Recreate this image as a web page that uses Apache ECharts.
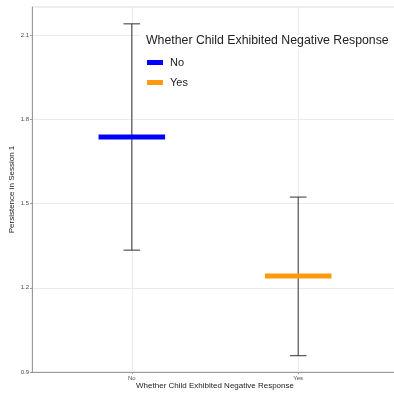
<!DOCTYPE html>
<html>
<head>
<meta charset="utf-8">
<script src="https://cdn.jsdelivr.net/npm/echarts@6/dist/echarts.min.js"></script>
<style>
  html, body { margin: 0; padding: 0; background: #fff; }
  #chart { width: 394px; height: 395px; }
</style>
</head>
<body>
<div id="chart"></div>
<script>
// data
const categories = ["No", "Yes"];
const means = [1.737, 1.242];
const lower = [1.334, 0.958];
const upper = [2.14, 1.523];
const colors = ["#0000FF", "#FF9A0E"];
const yTicks = [0.9, 1.2, 1.5, 1.8, 2.1];

const FONT = "Liberation Sans, Arial, sans-serif";
const chart = echarts.init(document.getElementById("chart"));

// one custom series per group: mean bar + error bar
function groupSeries(i) {
  return {
    name: categories[i],
    type: "custom",
    itemStyle: { color: colors[i] },
    data: [[i + 1, means[i], lower[i], upper[i]]],
    renderItem: function (params, api) {
      const x = api.value(0);
      const lo = api.coord([x, api.value(2)]);
      const hi = api.coord([x, api.value(3)]);
      const capL = api.coord([x - 0.05, 0])[0];
      const capR = api.coord([x + 0.05, 0])[0];
      const barL = api.coord([x - 0.2, api.value(1)]);
      const barR = api.coord([x + 0.2, api.value(1)]);
      const line = { stroke: "#333", lineWidth: 1 };
      return {
        type: "group",
        children: [
          { type: "line", shape: { x1: lo[0], y1: lo[1], x2: hi[0], y2: hi[1] }, style: line },
          { type: "line", shape: { x1: capL, y1: lo[1], x2: capR, y2: lo[1] }, style: line },
          { type: "line", shape: { x1: capL, y1: hi[1], x2: capR, y2: hi[1] }, style: line },
          { type: "rect", shape: { x: barL[0], y: barL[1] - 2.5, width: barR[0] - barL[0], height: 5 },
            style: { fill: colors[i] } }
        ]
      };
    }
  };
}

const series = categories.map((c, i) => groupSeries(i));
// vertical grid lines at the category positions
series[0].markLine = {
  silent: true,
  symbol: "none",
  label: { show: false },
  lineStyle: { color: "#ebebeb", width: 1, type: "solid" },
  z: 0,
  data: categories.map((c, i) => ({ xAxis: i + 1 }))
};

const option = {
  animation: false,
  backgroundColor: "#fff",
  textStyle: { fontFamily: FONT },
  grid: {
    left: 32, right: -4, top: 7, bottom: 23,
    outerBoundsMode: "none",
    containLabel: false,
    show: true, borderColor: "#dcdcdc", borderWidth: 1, backgroundColor: "#fff"
  },
  title: {
    text: "Whether Child Exhibited Negative Response",
    left: 140, top: 33,
    padding: [2, 6, 2, 6],
    backgroundColor: "#fff",
    textStyle: { fontFamily: FONT, fontSize: 12.3, fontWeight: "normal", color: "#222" }
  },
  legend: {
    orient: "vertical",
    left: 141, top: 55,
    padding: [2, 6, 2, 6],
    backgroundColor: "#fff",
    icon: "rect",
    itemWidth: 16, itemHeight: 5, itemGap: 9,
    selectedMode: false,
    textStyle: { fontFamily: FONT, fontSize: 11, color: "#222", padding: [0, 0, 0, 2] },
    data: categories
  },
  xAxis: {
    type: "value",
    min: 0.4, max: 2.6,
    name: "Whether Child Exhibited Negative Response",
    nameLocation: "middle",
    nameMoveOverlap: false,
    nameGap: 10,
    nameTextStyle: { fontFamily: FONT, fontSize: 8, color: "#222" },
    axisLine: { show: true, lineStyle: { color: "#999", width: 1 } },
    axisTick: { show: true, length: 2, lineStyle: { color: "#999" }, customValues: [1, 2] },
    axisLabel: {
      customValues: [1, 2],
      fontSize: 6, color: "#4d4d4d", margin: 3,
      formatter: v => categories[Math.round(v) - 1] || ""
    },
    splitLine: { show: false }
  },
  yAxis: {
    type: "value",
    min: 0.9, max: 2.2,
    name: "Persistence in Session 1",
    nameLocation: "middle",
    nameMoveOverlap: false,
    nameGap: 16,
    nameTextStyle: { fontFamily: FONT, fontSize: 8, color: "#222" },
    axisLine: { show: true, lineStyle: { color: "#999", width: 1 } },
    axisTick: { show: true, length: 2, lineStyle: { color: "#999" }, customValues: yTicks },
    axisLabel: {
      customValues: yTicks,
      fontSize: 6, color: "#4d4d4d", margin: 3,
      formatter: v => v.toFixed(1)
    },
    interval: 0.15,
    splitLine: { show: true, lineStyle: { color: "#ebebeb", width: 1 } }
  },
  series: series
};

chart.setOption(option);
</script>
</body>
</html>
